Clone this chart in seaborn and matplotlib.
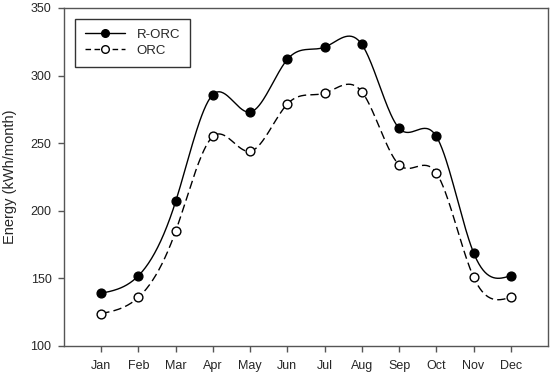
import numpy as np
import pandas as pd
import matplotlib
matplotlib.use("Agg")
import matplotlib.pyplot as plt
from matplotlib.lines import Line2D
import seaborn as sns

months = ["Jan", "Feb", "Mar", "Apr", "May", "Jun", "Jul", "Aug", "Sep", "Oct", "Nov", "Dec"]
r_orc = [139, 152, 207, 286, 273, 312, 321, 323, 261, 255, 169, 152]
orc = [124, 136, 185, 255, 244, 279, 287, 288, 234, 228, 151, 136]
yticks = [100, 150, 200, 250, 300, 350]


def natural_spline(x, y, xs):
    x = np.asarray(x, float); y = np.asarray(y, float)
    n = len(x)
    h = np.diff(x)
    A = np.zeros((n, n)); b = np.zeros(n)
    A[0, 0] = 1; A[-1, -1] = 1
    for i in range(1, n - 1):
        A[i, i - 1] = h[i - 1]
        A[i, i] = 2 * (h[i - 1] + h[i])
        A[i, i + 1] = h[i]
        b[i] = 3 * ((y[i + 1] - y[i]) / h[i] - (y[i] - y[i - 1]) / h[i - 1])
    c = np.linalg.solve(A, b)
    out = np.empty_like(xs)
    for k, xv in enumerate(xs):
        i = min(max(np.searchsorted(x, xv) - 1, 0), n - 2)
        dx = xv - x[i]
        bi = (y[i + 1] - y[i]) / h[i] - h[i] * (2 * c[i] + c[i + 1]) / 3
        di = (c[i + 1] - c[i]) / (3 * h[i])
        out[k] = y[i] + bi * dx + c[i] * dx ** 2 + di * dx ** 3
    return out


sns.set_theme(style="ticks")
plt.rcParams['font.family'] = ['Liberation Sans', 'DejaVu Sans']

fig = plt.figure(figsize=(5.5, 3.76), dpi=100)
ax = fig.add_axes([0.1164, 0.0798, 0.88, 0.899])

xpos = np.arange(1, len(months) + 1)
xs = np.linspace(1, len(months), 400)
df = pd.DataFrame({"x": xpos, "R-ORC": r_orc, "ORC": orc})

sns.lineplot(x=xs, y=natural_spline(xpos, r_orc, xs), color="black", lw=1.0, ax=ax)
sns.lineplot(x=xs, y=natural_spline(xpos, orc, xs), color="black", lw=1.0, ax=ax)
ax.lines[-1].set_dashes((6, 3))
sns.scatterplot(data=df, x="x", y="R-ORC", color="black", s=40, edgecolor="black",
                linewidth=1.0, zorder=5, ax=ax)
sns.scatterplot(data=df, x="x", y="ORC", color="white", s=40, edgecolor="black",
                linewidth=1.0, zorder=5, ax=ax)

ax.set_xlim(0, 13)
ax.set_ylim(100, 350)
ax.set_xticks(xpos)
ax.set_xticklabels(months)
ax.set_yticks(yticks)
ax.set_xlabel("")
ax.set_ylabel("Energy (kWh/month)", fontsize=10.5, labelpad=10)
ax.tick_params(axis="both", labelsize=9, length=4, width=1, color="#555555",
               direction="out", pad=5)
ax.tick_params(axis="x", pad=6)
for s in ax.spines.values():
    s.set_color("#555555")
    s.set_linewidth(1.0)
    s.set_visible(True)

handles = [
    Line2D([], [], color="black", lw=1.0, marker="o", markersize=5.5,
           markerfacecolor="black", markeredgecolor="black"),
    Line2D([], [], color="black", lw=1.0, dashes=(4, 2.5), marker="o", markersize=5.5,
           markerfacecolor="white", markeredgecolor="black"),
]
leg = ax.legend(handles, ["R-ORC", "ORC"], loc="upper left", bbox_to_anchor=(0.023, 0.968),
                fontsize=9.5, frameon=True, fancybox=False, handlelength=3.0,
                borderpad=0.75, labelspacing=0.3, handletextpad=0.9, borderaxespad=0)
leg.get_frame().set_edgecolor("black")
leg.get_frame().set_linewidth(1.0)

fig.savefig("out.png", dpi=100)
